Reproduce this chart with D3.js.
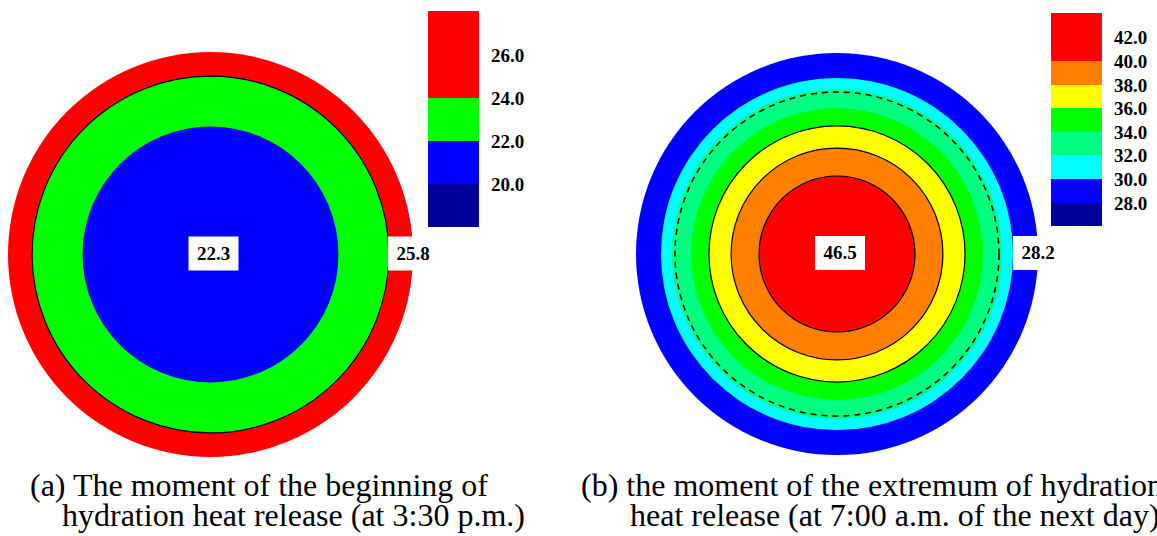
<!DOCTYPE html>
<html>
<head>
<meta charset="utf-8">
<script src="https://cdn.jsdelivr.net/npm/d3@7"></script>
<style>
body { margin: 0; background: #fff; }
svg { display: block; }
</style>
</head>
<body>
<div id="chart"></div>
<script>
// panel (a): beginning of hydration heat release
var aBandRadius = [0.632, 0.881, 1.0];          // outer radius of each band, fraction of section radius
var aBandColor = ["#0000ff", "#00ff00", "#ff0000"];
var aSolidLines = [0.881];
var aDashedLines = [];
var aCenterValue = "22.3", aEdgeValue = "25.8";
var aLegendLevels = [20, 22, 24, 26];
var aLegendColors = ["#000099", "#0000ff", "#00ff00", "#ff0000", "#ff0000"];
var aCaption = ["(a) The moment of the beginning of", "hydration heat release (at 3:30 p.m.)"];

// panel (b): extremum of hydration heat release
var bBandRadius = [0.388, 0.527, 0.637, 0.726, 0.821, 0.876, 1.0];
var bBandColor = ["#ff0000", "#ff8000", "#ffff00", "#00ff00", "#00ff80", "#00ffff", "#0000ff"];
var bSolidLines = [0.388, 0.527, 0.637];
var bDashedLines = [0.806];
var bCenterValue = "46.5", bEdgeValue = "28.2";
var bLegendLevels = [28, 30, 32, 34, 36, 38, 40, 42];
var bLegendColors = ["#000099", "#0000ff", "#00ffff", "#00ff80", "#00ff00", "#ffff00", "#ff8000", "#ff0000", "#ff0000"];
var bCaption = ["(b) the moment of the extremum of hydration", "heat release (at 7:00 a.m. of the next day)"];

var width = 1157, height = 536;
var numFont = "'Liberation Serif', 'Times New Roman', serif";

var svg = d3.select("#chart").append("svg")
	.attr("width", width)
	.attr("height", height);

var panels = [
	{cx: 210.5, cy: 254.5, R: 202.5, bandR: aBandRadius, bandC: aBandColor, solid: aSolidLines, dashed: aDashedLines,
	 center: aCenterValue, edge: aEdgeValue, levels: aLegendLevels, lcolors: aLegendColors,
	 legend: {x: 428, w: 51, top: 11, bottom: 226}, caption: aCaption, capX: [30, 62]},
	{cx: 837, cy: 254, R: 201, bandR: bBandRadius, bandC: bBandColor, solid: bSolidLines, dashed: bDashedLines,
	 center: bCenterValue, edge: bEdgeValue, levels: bLegendLevels, lcolors: bLegendColors,
	 legend: {x: 1051, w: 51, top: 13.3, bottom: 225.7}, caption: bCaption, capX: [581, 630]}
];

panels.forEach(function(p){
	var g = svg.append("g");
	var r = d3.scaleLinear().domain([0, 1]).range([0, p.R]);

	// colour bands, outermost first
	var bands = p.bandR.map(function(d, i){ return {r: d, c: p.bandC[i]}; }).reverse();
	g.selectAll("circle.band")
		.data(bands)
		.enter().append("circle")
		.attr("class", "band")
		.attr("cx", p.cx)
		.attr("cy", p.cy)
		.attr("r", function(d){ return r(d.r); })
		.attr("fill", function(d){ return d.c; });

	// contour lines
	g.selectAll("circle.solid")
		.data(p.solid)
		.enter().append("circle")
		.attr("cx", p.cx)
		.attr("cy", p.cy)
		.attr("r", function(d){ return r(d); })
		.attr("fill", "none")
		.attr("stroke", "#000")
		.attr("stroke-width", 1.2);

	g.selectAll("circle.dashed")
		.data(p.dashed)
		.enter().append("circle")
		.attr("cx", p.cx)
		.attr("cy", p.cy)
		.attr("r", function(d){ return r(d); })
		.attr("fill", "none")
		.attr("stroke", "#000")
		.attr("stroke-width", 1.5)
		.attr("stroke-dasharray", "6,5");

	// value labels on white boxes
	var labels = [
		{x: p.cx + 3, y: p.cy, t: p.center},
		{x: p.cx + r(1), y: p.cy, t: p.edge}
	];
	labels.forEach(function(l){
		g.append("rect")
			.attr("x", l.x - 25)
			.attr("y", l.y - 18)
			.attr("width", 50)
			.attr("height", 34)
			.attr("fill", "#fff");
		g.append("text")
			.attr("x", l.x)
			.attr("y", l.y + 5)
			.attr("text-anchor", "middle")
			.style("font-family", numFont)
			.style("font-weight", "bold")
			.style("font-size", "19px")
			.text(l.t);
	});

	// legend
	var lv = p.levels;
	var step = lv[1] - lv[0];
	var y = d3.scaleLinear()
		.domain([lv[0] - step, lv[lv.length - 1] + step])
		.range([p.legend.bottom, p.legend.top]);
	var lbands = p.lcolors.map(function(c, i){ return {lo: lv[0] - step + i * step, c: c}; });
	g.selectAll("rect.leg")
		.data(lbands)
		.enter().append("rect")
		.attr("x", p.legend.x)
		.attr("y", function(d){ return y(d.lo + step); })
		.attr("width", p.legend.w)
		.attr("height", function(d){ return y(d.lo) - y(d.lo + step) + 0.5; })
		.attr("fill", function(d){ return d.c; })
		.attr("shape-rendering", "crispEdges");

	g.selectAll("text.leg")
		.data(lv)
		.enter().append("text")
		.attr("x", p.legend.x + p.legend.w + 12)
		.attr("y", function(d){ return y(d) + 7.5; })
		.style("font-family", numFont)
		.style("font-weight", "bold")
		.style("font-size", "19px")
		.text(function(d){ return d.toFixed(1); });

	// caption
	p.caption.forEach(function(line, i){
		g.append("text")
			.attr("x", p.capX[i])
			.attr("y", 496 + i * 30)
			.style("font-family", numFont)
			.style("font-size", "32px")
			.text(line);
	});
});
</script>
</body>
</html>
